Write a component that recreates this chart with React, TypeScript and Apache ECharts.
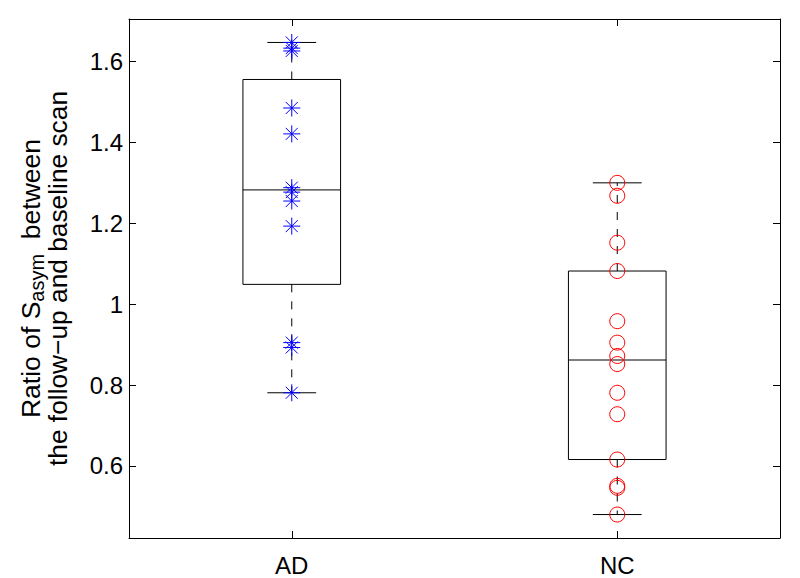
import React, { useEffect, useRef } from 'react';
import * as echarts from 'echarts';

const categories = ['AD', 'NC'];
const adValues = [1.647, 1.633, 1.626, 1.485, 1.421, 1.288, 1.277, 1.255, 1.193, 0.905, 0.893, 0.781];
const ncValues = [1.3, 1.268, 1.152, 1.082, 0.958, 0.905, 0.872, 0.852, 0.781, 0.728, 0.616, 0.551, 0.546, 0.48];
const yTicks = [0.6, 0.8, 1, 1.2, 1.4, 1.6];
const yMin = 0.422;
const yMax = 1.705;

const FONT = '"Liberation Sans", Arial, Helvetica, sans-serif';

function prctile(sorted: number[], p: number): number {
  const n = sorted.length;
  const pos = p * n + 0.5;
  if (pos <= 1) return sorted[0];
  if (pos >= n) return sorted[n - 1];
  const lo = Math.floor(pos);
  const f = pos - lo;
  return sorted[lo - 1] + f * (sorted[lo] - sorted[lo - 1]);
}

function boxStats(values: number[]): number[] {
  const s = [...values].sort((a, b) => a - b);
  const q1 = prctile(s, 0.25);
  const med = prctile(s, 0.5);
  const q3 = prctile(s, 0.75);
  const iqr = q3 - q1;
  const hiLim = q3 + 1.5 * iqr;
  const loLim = q1 - 1.5 * iqr;
  const inside = s.filter((v) => v >= loLim && v <= hiLim);
  return [inside[0], q1, med, q3, inside[inside.length - 1]];
}

export default function App() {
  const ref = useRef<HTMLDivElement>(null);
  useEffect(() => {
    if (!ref.current) return;
    const chart = echarts.init(ref.current, null, { renderer: 'svg' });
    const groups = [adValues, ncValues];
    const boxData = groups.map((g, i) => [i, ...boxStats(g)]);

    const option: any = {
      animation: false,
      backgroundColor: '#ffffff',
      grid: { left: 129, right: 20, top: 19, bottom: 40, containLabel: false },
      xAxis: [
        {
          type: 'category',
          data: categories,
          position: 'bottom',
          axisLine: { show: true, lineStyle: { color: '#000', width: 1 } },
          axisTick: { show: true, inside: true, alignWithLabel: true, length: 7, lineStyle: { color: '#000' } },
          axisLabel: { color: '#000', fontFamily: FONT, fontSize: 24, margin: 15 },
          splitLine: { show: false },
        },
        {
          type: 'category',
          data: categories,
          position: 'top',
          axisLine: { show: true, lineStyle: { color: '#000', width: 1 } },
          axisTick: { show: true, inside: true, alignWithLabel: true, length: 7, lineStyle: { color: '#000' } },
          axisLabel: { show: false },
          splitLine: { show: false },
        },
      ],
      yAxis: [
        {
          type: 'value',
          min: yMin,
          max: yMax,
          position: 'left',
          axisLine: { show: true, lineStyle: { color: '#000', width: 1 } },
          axisTick: { show: true, inside: true, length: 7, customValues: yTicks, lineStyle: { color: '#000' } },
          axisLabel: {
            color: '#000',
            fontFamily: FONT,
            fontSize: 24,
            margin: 6,
            customValues: yTicks,
            formatter: (v: number) => String(Math.round(v * 10) / 10),
          },
          splitLine: { show: false },
          name: '{a|Ratio of S}{sub|asym}{a|  between}\n{b|the follow\u2212up and baseline scan}',
          nameLocation: 'middle',
          nameRotate: 90,
          nameGap: 60,
          nameTextStyle: {
            color: '#000',
            fontFamily: FONT,
            fontSize: 26,
            rich: {
              a: { fontFamily: FONT, fontSize: 26.5, color: '#000', lineHeight: 33 },
              sub: { fontFamily: FONT, fontSize: 20, color: '#000', lineHeight: 20, verticalAlign: 'bottom' },
              b: { fontFamily: FONT, fontSize: 26.3, color: '#000', lineHeight: 22 },
            },
          },
        },
        {
          type: 'value',
          min: yMin,
          max: yMax,
          position: 'right',
          axisLine: { show: true, lineStyle: { color: '#000', width: 1 } },
          axisTick: { show: true, inside: true, length: 7, customValues: yTicks, lineStyle: { color: '#000' } },
          axisLabel: { show: false },
          splitLine: { show: false },
        },
      ],
      series: [
        {
          type: 'custom',
          xAxisIndex: 0,
          yAxisIndex: 0,
          data: boxData,
          encode: { x: 0, y: [1, 2, 3, 4, 5] },
          z: 2,
          renderItem: (params: any, api: any) => {
            const i = api.value(0);
            const band = api.size([1, 0])[0];
            const hw = band * 0.15;
            const cw = band * 0.075;
            const x = api.coord([i, api.value(1)])[0];
            const yLo = api.coord([i, api.value(1)])[1];
            const yQ1 = api.coord([i, api.value(2)])[1];
            const yMed = api.coord([i, api.value(3)])[1];
            const yQ3 = api.coord([i, api.value(4)])[1];
            const yHi = api.coord([i, api.value(5)])[1];
            const solid = { stroke: '#000', lineWidth: 1, fill: 'none' };
            const dashed = { stroke: '#000', lineWidth: 1, fill: 'none', lineDash: [8, 9] };
            return {
              type: 'group',
              children: [
                { type: 'line', shape: { x1: x, y1: yQ3, x2: x, y2: yHi }, style: dashed },
                { type: 'line', shape: { x1: x, y1: yQ1, x2: x, y2: yLo }, style: dashed },
                { type: 'line', shape: { x1: x - cw, y1: yHi, x2: x + cw, y2: yHi }, style: solid },
                { type: 'line', shape: { x1: x - cw, y1: yLo, x2: x + cw, y2: yLo }, style: solid },
                { type: 'rect', shape: { x: x - hw, y: yQ3, width: 2 * hw, height: yQ1 - yQ3 }, style: solid },
                { type: 'line', shape: { x1: x - hw, y1: yMed, x2: x + hw, y2: yMed }, style: solid },
              ],
            };
          },
        },
        {
          type: 'scatter',
          xAxisIndex: 0,
          yAxisIndex: 0,
          z: 3,
          data: adValues.map((v) => [0, v]),
          symbol: 'path://M0,-10L0,10M-10,0L10,0M-7.07,-7.07L7.07,7.07M-7.07,7.07L7.07,-7.07',
          symbolSize: 17,
          itemStyle: { color: 'none', borderColor: '#0000ff', borderWidth: 1, opacity: 1 },
          emphasis: { disabled: true },
        },
        {
          type: 'scatter',
          xAxisIndex: 0,
          yAxisIndex: 0,
          z: 3,
          data: ncValues.map((v) => [1, v]),
          symbol: 'circle',
          symbolSize: 15,
          itemStyle: { color: 'none', borderColor: '#ff0000', borderWidth: 1, opacity: 1 },
          emphasis: { disabled: true },
        },
      ],
    };
    chart.setOption(option);
    return () => chart.dispose();
  }, []);
  return <div ref={ref} style={{ position: 'absolute', left: 0, top: 0, width: 800, height: 578 }} />;
}
